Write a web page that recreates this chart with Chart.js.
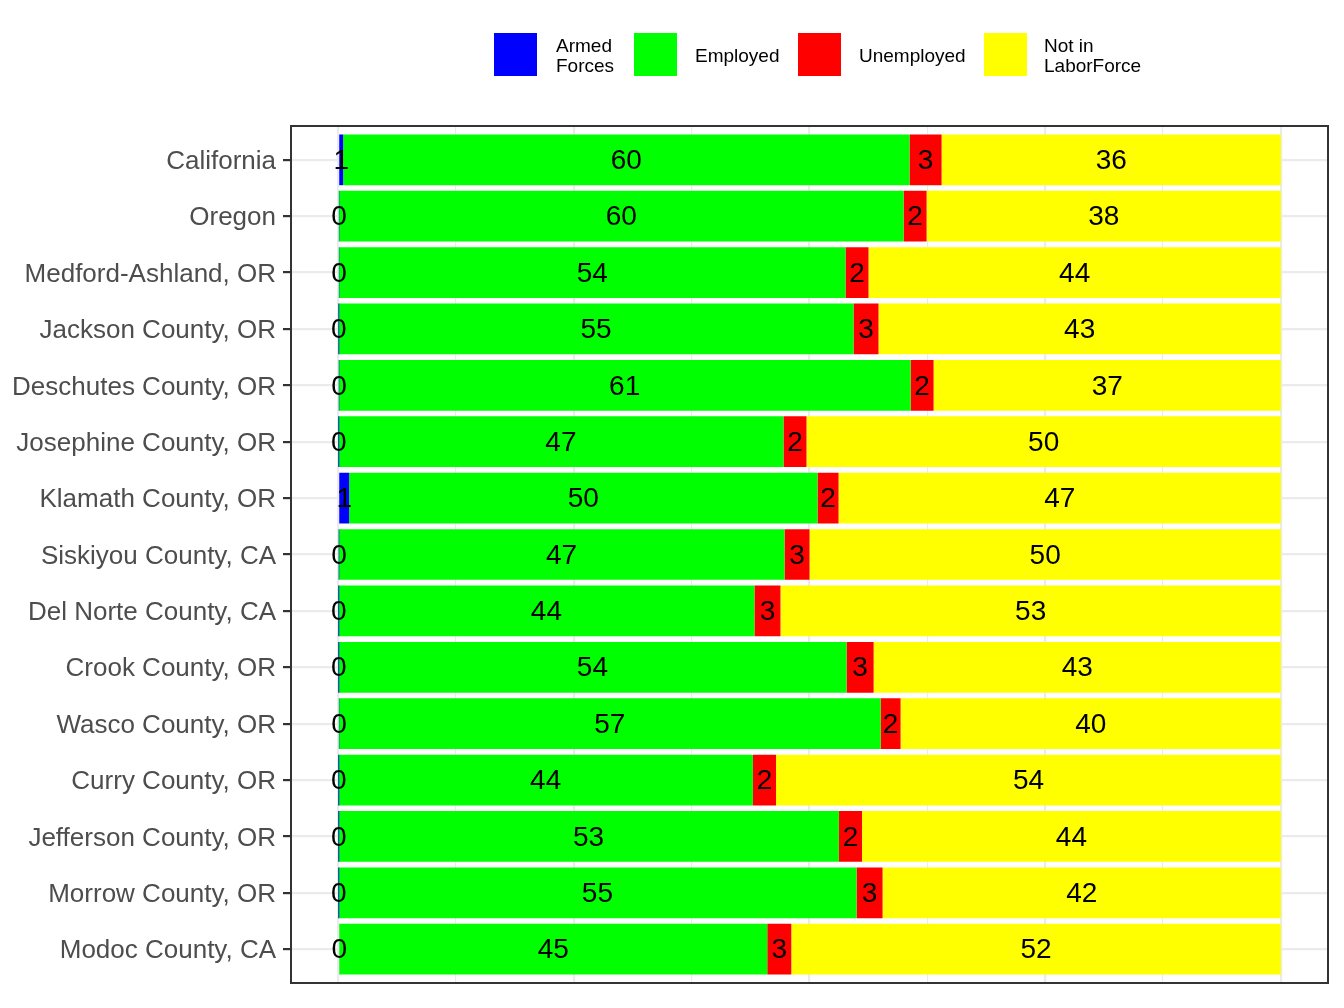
<!DOCTYPE html>
<html>
<head>
<meta charset="utf-8">
<script src="https://cdn.jsdelivr.net/npm/chart.js@4/dist/chart.umd.min.js"></script>
<style>
  html, body { margin: 0; padding: 0; background: #ffffff; }
  #wrap { position: relative; width: 1344px; height: 1008px; }
  #chart { position: absolute; left: 0; top: 0; }
  .lg-box { position: absolute; top: 33px; width: 43px; height: 43px; }
  .lg-txt { position: absolute; top: 36px; height: 40px; display: flex; align-items: center;
            font-family: 'Liberation Sans', Arial, sans-serif; font-size: 19px; line-height: 20px; color: #000; white-space: nowrap; }
</style>
</head>
<body>
<div id="wrap">
  <canvas id="chart" width="1344" height="1008"></canvas>
  <div id="legend"></div>
</div>
<script>
const categories = [
  'California', 'Oregon', 'Medford-Ashland, OR', 'Jackson County, OR', 'Deschutes County, OR',
  'Josephine County, OR', 'Klamath County, OR', 'Siskiyou County, CA', 'Del Norte County, CA',
  'Crook County, OR', 'Wasco County, OR', 'Curry County, OR', 'Jefferson County, OR',
  'Morrow County, OR', 'Modoc County, CA'
];
const seriesNames = ['Armed Forces', 'Employed', 'Unemployed', 'Not in LaborForce'];
const legendLabels = [['Armed', 'Forces'], ['Employed'], ['Unemployed'], ['Not in', 'LaborForce']];
const armedForces     = [0.53, 0.08, 0.08, 0.03, 0.07, 0.02, 1.17, 0.06, 0.02, 0.02, 0.08, 0.02, 0.02, 0.02, 0.12];
const employed        = [60.08, 59.90, 53.74, 54.64, 60.65, 47.22, 49.68, 47.29, 44.14, 53.91, 57.46, 43.98, 53.10, 54.97, 45.40];
const unemployed      = [3.40, 2.44, 2.44, 2.65, 2.44, 2.44, 2.23, 2.65, 2.76, 2.87, 2.12, 2.45, 2.45, 2.76, 2.55];
const notInLaborForce = [35.99, 37.58, 43.74, 42.68, 36.84, 50.32, 46.92, 50.00, 53.08, 43.20, 40.34, 53.55, 44.43, 42.25, 51.93];
const seriesColors = ['#0000FF', '#00FF00', '#FF0000', '#FFFF00'];
const xGridTicks = [0, 12.5, 25, 37.5, 50, 62.5, 75, 87.5, 100];

const FONT = "'Liberation Sans', Arial, sans-serif";

// HTML legend
(function buildLegend() {
  const boxLeft = [494, 634, 798, 984];
  const txtLeft = [556, 695, 859, 1044];
  const lg = document.getElementById('legend');
  seriesNames.forEach((name, i) => {
    const b = document.createElement('div');
    b.className = 'lg-box';
    b.style.left = boxLeft[i] + 'px';
    b.style.background = seriesColors[i];
    b.title = name;
    lg.appendChild(b);
    const t = document.createElement('div');
    t.className = 'lg-txt';
    t.style.left = txtLeft[i] + 'px';
    t.innerHTML = legendLabels[i].join('<br>');
    lg.appendChild(t);
  });
})();

const valueLabels = {
  id: 'valueLabels',
  afterDatasetsDraw(chart) {
    const ctx = chart.ctx;
    ctx.save();
    ctx.font = '28px ' + FONT;
    ctx.fillStyle = '#000000';
    ctx.textAlign = 'center';
    ctx.textBaseline = 'middle';
    chart.data.datasets.forEach((ds, di) => {
      const meta = chart.getDatasetMeta(di);
      meta.data.forEach((bar, i) => {
        const cx = (bar.x + bar.base) / 2;
        ctx.fillText(String(Math.round(ds.data[i])), cx, bar.y + 1.5);
      });
    });
    ctx.restore();
  }
};

const panelBorder = {
  id: 'panelBorder',
  afterDraw(chart) {
    const a = chart.chartArea;
    const ctx = chart.ctx;
    ctx.save();
    ctx.strokeStyle = '#333333';
    ctx.lineWidth = 2;
    ctx.strokeRect(a.left, a.top, a.right - a.left, a.bottom - a.top);
    ctx.restore();
  }
};

const seriesData = [armedForces, employed, unemployed, notInLaborForce];

new Chart(document.getElementById('chart'), {
  type: 'bar',
  data: {
    labels: categories,
    datasets: seriesNames.map((name, i) => ({
      label: name,
      data: seriesData[i],
      backgroundColor: seriesColors[i],
      borderWidth: 0,
      categoryPercentage: 0.9,
      barPercentage: 1.0
    }))
  },
  options: {
    indexAxis: 'y',
    responsive: false,
    animation: false,
    devicePixelRatio: 1,
    layout: { padding: { top: 126, right: 16, bottom: 25, left: 0 } },
    plugins: { legend: { display: false }, tooltip: { enabled: false } },
    scales: {
      x: {
        type: 'linear',
        stacked: true,
        min: -5,
        max: 105,
        afterBuildTicks(scale) { scale.ticks = xGridTicks.map(v => ({ value: v })); },
        afterFit(scale) { scale.height = 0; },
        ticks: { display: false },
        border: { display: false },
        grid: {
          color: '#EBEBEB',
          lineWidth: (c) => (c.tick && c.tick.value % 25 === 0) ? 2.2 : 1.1,
          drawTicks: false
        }
      },
      y: {
        type: 'category',
        stacked: true,
        offset: true,
        afterBuildTicks(scale) {
          scale._startValue = -0.6;
          scale._valueRange = categories.length - 1 + 1.2;
        },
        afterFit(scale) { scale.width = 291; },
        ticks: {
          color: '#4D4D4D',
          font: { family: FONT, size: 26 },
          padding: 7,
          labelOffset: 2
        },
        border: { display: false },
        grid: {
          offset: false,
          color: '#EBEBEB',
          lineWidth: 2.2,
          tickColor: '#333333',
          tickLength: 8,
          tickWidth: 2.2
        }
      }
    }
  },
  plugins: [valueLabels, panelBorder]
});
</script>
</body>
</html>
